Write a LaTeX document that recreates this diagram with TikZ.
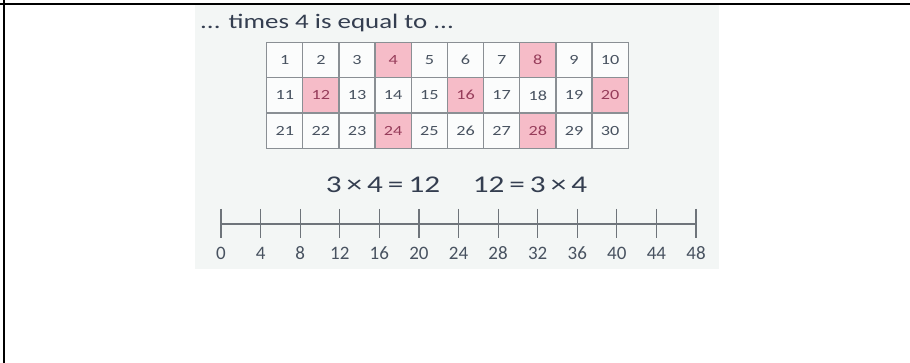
\documentclass[tikz,border=0pt]{standalone}
\usepackage{fontspec}
\setmainfont{Carlito}
\newfontfamily\widefont[FakeStretch=1.3]{Carlito}
\definecolor{picbg}{RGB}{243,246,245}
\definecolor{gridline}{RGB}{138,143,148}
\definecolor{cellfill}{RGB}{251,252,252}
\definecolor{fourfill}{RGB}{246,188,200}
\definecolor{numcol}{RGB}{72,82,96}
\definecolor{fournum}{RGB}{150,60,90}
\definecolor{titlecol}{RGB}{52,62,80}
\definecolor{linecol}{RGB}{110,116,122}
\tikzset{
  frameline/.style = {draw=black, line width=2pt},
  cell/.style      = {draw=gridline, line width=1.3pt, fill=cellfill,
                      minimum width=36.16pt, minimum height=35.33pt,
                      inner sep=0pt, text=numcol,
                      font=\widefont\fontsize{14}{16}\selectfont},
  fourcell/.style  = {cell, fill=fourfill, text=fournum},
  numline/.style   = {draw=linecol, line width=1.2pt},
  tick/.style      = {draw=linecol, line width=1.2pt},
  ticklabel/.style = {text=numcol, inner sep=0pt,
                      font=\fontsize{19}{22}\selectfont},
  eqtext/.style    = {text=titlecol, inner sep=0pt,
                      font=\widefont\fontsize{24}{28}\selectfont},
}
\newcommand{\eqgap}{\hspace{5pt}}

\begin{document}
\begin{tikzpicture}[x=1pt, y=-1pt]

  \useasboundingbox (0,0) rectangle (910,363);

  % ── table frame ──
  \draw[frameline] (0,4) -- (910,4);
  \draw[frameline] (4,0) -- (4,363);

  % ── picture background ──
  \fill[picbg] (195,5) rectangle (719,269);

  % ── title ──
  \node[anchor=west, inner sep=0pt, text=titlecol,
        font=\widefont\fontsize{20.7}{24}\selectfont] (title) at (200,23)
    {... times 4 is equal to ...};

  % ══════════════════════════════════════════════
  %  HUNDRED SQUARE (1 to 30), multiples of 4 shaded
  % ══════════════════════════════════════════════

  % row 1
  \node[cell]     (c1)  at (284.8, 60) {1};
  \node[cell]     (c2)  at (320.9, 60) {2};
  \node[cell]     (c3)  at (357.1, 60) {3};
  \node[fourcell] (c4)  at (393.2, 60) {4};
  \node[cell]     (c5)  at (429.4, 60) {5};
  \node[cell]     (c6)  at (465.5, 60) {6};
  \node[cell]     (c7)  at (501.7, 60) {7};
  \node[fourcell] (c8)  at (537.8, 60) {8};
  \node[cell]     (c9)  at (574.0, 60) {9};
  \node[cell]     (c10) at (610.2, 60) {10};

  % row 2
  \node[cell]     (c11) at (284.8, 95.3) {11};
  \node[fourcell] (c12) at (320.9, 95.3) {12};
  \node[cell]     (c13) at (357.1, 95.3) {13};
  \node[cell]     (c14) at (393.2, 95.3) {14};
  \node[cell]     (c15) at (429.4, 95.3) {15};
  \node[fourcell] (c16) at (465.5, 95.3) {16};
  \node[cell]     (c17) at (501.7, 95.3) {17};
  \node[cell]     (c18) at (537.8, 95.3) {18};
  \node[cell]     (c19) at (574.0, 95.3) {19};
  \node[fourcell] (c20) at (610.2, 95.3) {20};

  % row 3
  \node[cell]     (c21) at (284.8, 130.7) {21};
  \node[cell]     (c22) at (320.9, 130.7) {22};
  \node[cell]     (c23) at (357.1, 130.7) {23};
  \node[fourcell] (c24) at (393.2, 130.7) {24};
  \node[cell]     (c25) at (429.4, 130.7) {25};
  \node[cell]     (c26) at (465.5, 130.7) {26};
  \node[cell]     (c27) at (501.7, 130.7) {27};
  \node[fourcell] (c28) at (537.8, 130.7) {28};
  \node[cell]     (c29) at (574.0, 130.7) {29};
  \node[cell]     (c30) at (610.2, 130.7) {30};

  % ── equations ──
  \node[eqtext] (eqleft)  at (383,185) {3\eqgap×\eqgap4\eqgap=\eqgap12};
  \node[eqtext] (eqright) at (530,185) {12\eqgap=\eqgap3\eqgap×\eqgap4};

  % ══════════════════════════════════════════════
  %  NUMBER LINE 0 .. 48 in steps of 4
  % ══════════════════════════════════════════════
  \coordinate (n0)  at (221,224);
  \coordinate (n48) at (696,224);
  \draw[numline] (n0) -- (n48);

  % ticks
  \draw[tick] (221.0,209) -- (221.0,238);
  \draw[tick] (260.6,209) -- (260.6,238);
  \draw[tick] (300.2,209) -- (300.2,238);
  \draw[tick] (339.8,209) -- (339.8,238);
  \draw[tick] (379.3,209) -- (379.3,238);
  \draw[tick] (418.9,209) -- (418.9,238);
  \draw[tick] (458.5,209) -- (458.5,238);
  \draw[tick] (498.1,209) -- (498.1,238);
  \draw[tick] (537.7,209) -- (537.7,238);
  \draw[tick] (577.3,209) -- (577.3,238);
  \draw[tick] (616.8,209) -- (616.8,238);
  \draw[tick] (656.4,209) -- (656.4,238);
  \draw[tick] (696.0,209) -- (696.0,238);

  % tick labels
  \node[ticklabel] (l0)  at (221.0,253) {0};
  \node[ticklabel] (l4)  at (260.6,253) {4};
  \node[ticklabel] (l8)  at (300.2,253) {8};
  \node[ticklabel] (l12) at (339.8,253) {12};
  \node[ticklabel] (l16) at (379.3,253) {16};
  \node[ticklabel] (l20) at (418.9,253) {20};
  \node[ticklabel] (l24) at (458.5,253) {24};
  \node[ticklabel] (l28) at (498.1,253) {28};
  \node[ticklabel] (l32) at (537.7,253) {32};
  \node[ticklabel] (l36) at (577.3,253) {36};
  \node[ticklabel] (l40) at (616.8,253) {40};
  \node[ticklabel] (l44) at (656.4,253) {44};
  \node[ticklabel] (l48) at (696.0,253) {48};

\end{tikzpicture}
\end{document}
